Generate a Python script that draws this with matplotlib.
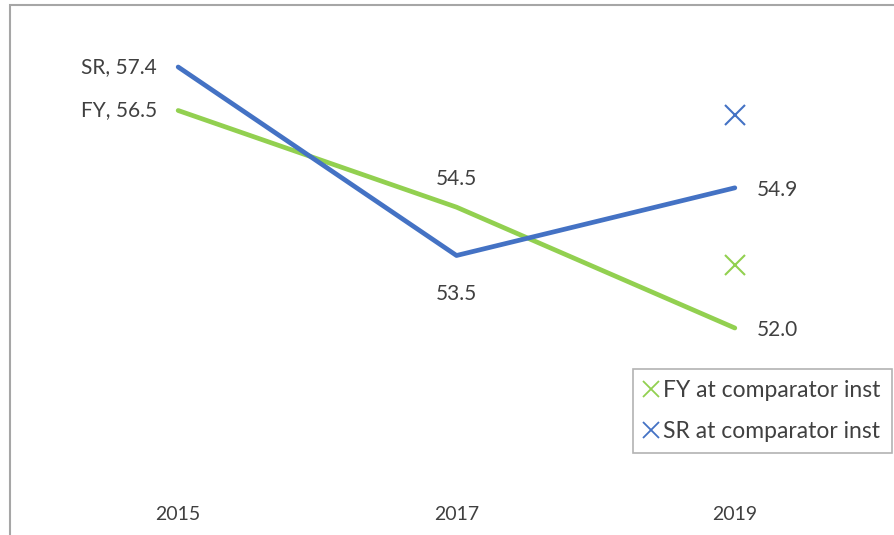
import matplotlib
matplotlib.use('Agg')
import matplotlib.pyplot as plt
from matplotlib.patches import Rectangle
from matplotlib.lines import Line2D

plt.rcParams['font.family'] = ['Lato', 'DejaVu Sans']

years = ['2015', '2017', '2019']
fy = [56.5, 54.5, 52.0]
sr = [57.4, 53.5, 54.9]
fy_comp = 53.3
sr_comp = 56.4

BLUE = '#4472C4'
GREEN = '#92D050'
TEXT = '#404040'

fig = plt.figure(figsize=(8.95, 5.35), dpi=100)
ax = fig.add_axes([39 / 895, 1 - 473 / 535, 835 / 895, 435 / 535])

x = list(range(len(years)))
ax.plot(x, fy, color=GREEN, lw=3.4, solid_capstyle='round', zorder=3)
ax.plot(x, sr, color=BLUE, lw=3.4, solid_capstyle='round', zorder=3)
ax.plot([2], [fy_comp], ls='none', marker='x', ms=15, mew=1.5, color=GREEN, zorder=4)
ax.plot([2], [sr_comp], ls='none', marker='x', ms=15, mew=1.5, color=BLUE, zorder=4)

fs = 15
ax.annotate(f'SR, {sr[0]:.1f}', (0, sr[0]), xytext=(-21, 0), textcoords='offset pixels',
            ha='right', va='center', fontsize=fs, color=TEXT)
ax.annotate(f'FY, {fy[0]:.1f}', (0, fy[0]), xytext=(-21, 0), textcoords='offset pixels',
            ha='right', va='center', fontsize=fs, color=TEXT)
ax.annotate(f'{fy[1]:.1f}', (1, fy[1]), xytext=(0, 28), textcoords='offset pixels',
            ha='center', va='center', fontsize=fs, color=TEXT)
ax.annotate(f'{sr[1]:.1f}', (1, sr[1]), xytext=(0, -39), textcoords='offset pixels',
            ha='center', va='center', fontsize=fs, color=TEXT)
ax.annotate(f'{sr[2]:.1f}', (2, sr[2]), xytext=(22, -2), textcoords='offset pixels',
            ha='left', va='center', fontsize=fs, color=TEXT)
ax.annotate(f'{fy[2]:.1f}', (2, fy[2]), xytext=(22, -2), textcoords='offset pixels',
            ha='left', va='center', fontsize=fs, color=TEXT)

ax.set_xlim(-0.5, 2.5)
ax.set_ylim(49, 58)
ax.set_xticks(x)
ax.set_xticklabels(years, fontsize=14, color=TEXT)
ax.tick_params(axis='x', length=0, pad=24)
ax.set_yticks([])
for s in ax.spines.values():
    s.set_visible(False)

handles = [
    Line2D([], [], ls='none', marker='x', ms=11, mew=1.3, color=GREEN, label='FY at comparator inst'),
    Line2D([], [], ls='none', marker='x', ms=11, mew=1.3, color=BLUE, label='SR at comparator inst'),
]
leg = fig.legend(handles=handles, loc='upper left', bbox_to_anchor=(633 / 895, 1 - 369 / 535),
                 fontsize=16.5, frameon=True, fancybox=False, handlelength=0.55,
                 handletextpad=0.25, borderpad=0.5, labelspacing=0.85, borderaxespad=0)
leg.get_frame().set_edgecolor('#a0a0a0')
leg.get_frame().set_linewidth(1.2)
for t in leg.get_texts():
    t.set_color(TEXT)

# outer chart frame
fig.patches.append(Rectangle((10 / 895, -0.1), 1.1, 1.1 - 5 / 535, transform=fig.transFigure,
                             fill=False, edgecolor='#a6a6a6', lw=1.5, zorder=0))

fig.savefig('out.png', dpi=100)
